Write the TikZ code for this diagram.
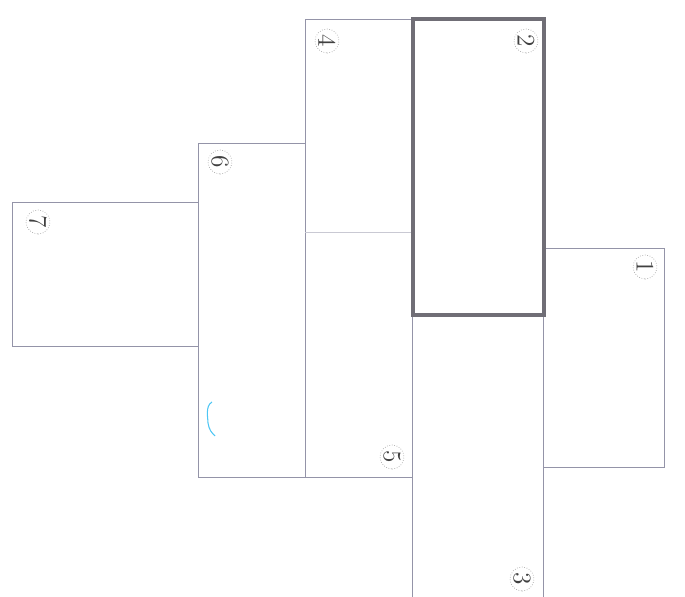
\documentclass[tikz,border=0pt]{standalone}
\usepackage{tikz}
\usetikzlibrary{positioning}

\definecolor{sheetline}{RGB}{148,148,168}
\definecolor{thickline}{RGB}{112,110,118}

\begin{document}
\begin{tikzpicture}[
        x=0.02cm, y=-0.02cm,
        sheet/.style={draw=sheetline, line width=0.5pt},
        mainsheet/.style={draw=thickline, line width=2.2pt},
        numlabel/.style={circle, draw=gray!70, densely dotted, line width=0.4pt, minimum size=0.48cm, inner sep=0pt, font=\Large, rotate=-90, text=black!75}
    ]
        \useasboundingbox (0,0) rectangle (685,597);

        % sheet 7
        \draw[sheet] (198,202) -- (12,202) -- (12,346) -- (198,346);
        \node[numlabel] (n7) at (38,222) {7};

        % sheet 6
        \draw[sheet] (198,143) rectangle (305,477);
        \node[numlabel] (n6) at (220,162) {6};

        % sheets 4 and 5
        \draw[sheet] (305,19) rectangle (412,477);
        \draw[sheet, draw=sheetline!50] (305,232) -- (412,232);
        \node[numlabel] (n4) at (327,41) {4};
        \node[numlabel] (n5) at (392,457) {5};

        % sheet 3
        \draw[sheet] (412,316) -- (412,597) -- (543,597) -- (543,316);
        \node[numlabel] (n3) at (522,579) {3};

        % sheet 1
        \draw[sheet] (543,248) rectangle (664,467);
        \node[numlabel] (n1) at (645,267) {1};

        % sheet 2
        \draw[mainsheet] (413,19) rectangle (544,315);
        \node[numlabel] (n2) at (526,41) {2};

        % pen mark
        \draw[cyan!70, line width=0.6pt] (212,402) .. controls (205,406) and (208,418) .. (208,423) .. controls (209,430) and (212,433) .. (215,436);

    \end{tikzpicture}
\end{document}
